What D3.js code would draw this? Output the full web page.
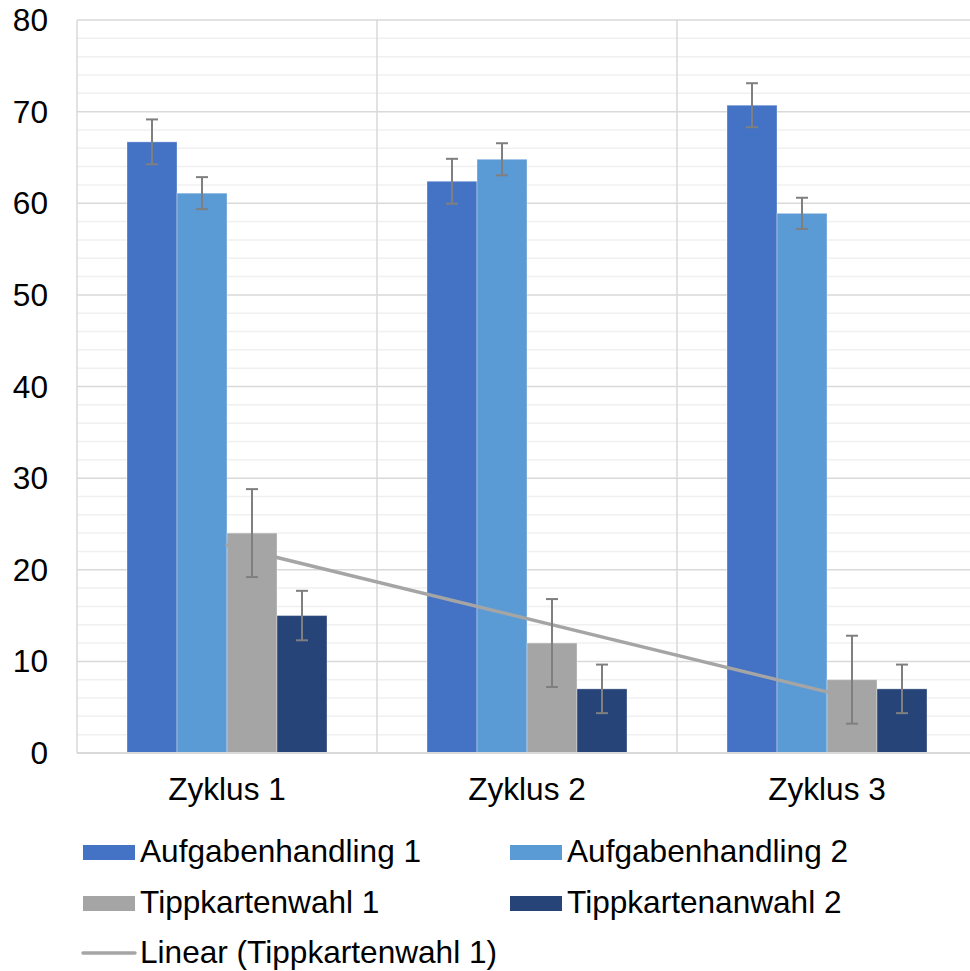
<!DOCTYPE html>
<html>
<head>
<meta charset="utf-8">
<script src="https://cdn.jsdelivr.net/npm/d3@7"></script>
<style>
  html, body { margin: 0; padding: 0; background: #fff; }
  svg { display: block; }
  text { font-family: "Liberation Sans", Arial, sans-serif; fill: #000; }
</style>
</head>
<body>
<svg id="chart" width="970" height="971"></svg>
<script>
const categories = ["Zyklus 1", "Zyklus 2", "Zyklus 3"];
const seriesNames = ["Aufgabenhandling 1", "Aufgabenhandling 2", "Tippkartenwahl 1", "Tippkartenanwahl 2"];
const aufgaben1 = [66.7, 62.4, 70.7];
const aufgaben2 = [61.1, 64.8, 58.9];
const tipp1 = [24, 12, 8];
const tipp2 = [15, 7, 7];
const errAufgaben1 = [2.45, 2.45, 2.4];
const errAufgaben2 = [1.75, 1.75, 1.7];
const errTipp1 = [4.8, 4.8, 4.8];
const errTipp2 = [2.7, 2.65, 2.65];
const yTicks = [0, 10, 20, 30, 40, 50, 60, 70, 80];
const trendLabel = "Linear (Tippkartenwahl 1)";
const colors = ["#4472C4", "#5B9BD5", "#A5A5A5", "#264478"];

const seriesValues = [aufgaben1, aufgaben2, tipp1, tipp2];
const seriesErrors = [errAufgaben1, errAufgaben2, errTipp1, errTipp2];

(function () {
const svg = d3.select("#chart");
const pLeft = 77, pRight = 977, pTop = 20, pBottom = 753;
const fs = "31.6px";

const x = d3.scaleBand().domain(categories).range([pLeft, pRight]).padding(0);
const bw = x.bandwidth();
const xs = d3.scaleBand().domain(seriesNames).range([bw / 6, bw * 5 / 6]).padding(0);
const y = d3.scaleLinear().domain([0, 80]).range([pBottom, pTop]);

// minor gridlines
const minor = d3.range(0, 81, 2).filter(v => v % 10 !== 0);
svg.append("g").selectAll("line").data(minor).join("line")
  .attr("x1", pLeft).attr("x2", pRight)
  .attr("y1", d => y(d)).attr("y2", d => y(d))
  .attr("stroke", "#F0F0F0").attr("stroke-width", 1.5);

// major gridlines
svg.append("g").selectAll("line").data(yTicks.filter(v => v > 0)).join("line")
  .attr("x1", pLeft).attr("x2", pRight)
  .attr("y1", d => y(d)).attr("y2", d => y(d))
  .attr("stroke", "#D9D9D9").attr("stroke-width", 1.5);

// vertical category lines
const vlines = categories.map(c => x(c)).concat([pRight]);
svg.append("g").selectAll("line").data(vlines).join("line")
  .attr("x1", d => d).attr("x2", d => d)
  .attr("y1", pTop).attr("y2", pBottom)
  .attr("stroke", "#D9D9D9").attr("stroke-width", 1.5);

// y labels
svg.append("g").selectAll("text").data(yTicks).join("text")
  .attr("x", 48).attr("y", d => y(d))
  .attr("text-anchor", "end").attr("dominant-baseline", "central")
  .style("font-size", fs)
  .text(d => d);

// bars
const barData = [];
seriesNames.forEach((s, si) => {
  categories.forEach((c, ci) => {
    barData.push({ s, c, v: seriesValues[si][ci], e: seriesErrors[si][ci], color: colors[si] });
  });
});
svg.append("g").selectAll("rect").data(barData).join("rect")
  .attr("x", d => x(d.c) + xs(d.s))
  .attr("y", d => y(d.v))
  .attr("width", xs.bandwidth())
  .attr("height", d => y(0) - y(d.v))
  .attr("fill", d => d.color)
  .attr("stroke", "#ffffff").attr("stroke-opacity", 0.35).attr("stroke-width", 1);

// x axis line
svg.append("line").attr("x1", pLeft).attr("x2", pRight)
  .attr("y1", y(0)).attr("y2", y(0))
  .attr("stroke", "#D9D9D9").attr("stroke-width", 2);

// trendline for Tippkartenwahl 1 (least squares)
const xi = tipp1.map((_, i) => i + 1);
const mx = d3.mean(xi), my = d3.mean(tipp1);
const slope = d3.sum(xi.map((v, i) => (v - mx) * (tipp1[i] - my))) / d3.sum(xi.map(v => (v - mx) ** 2));
const icpt = my - slope * mx;
const trendPts = categories.map((c, i) => [x(c) + bw / 2, y(icpt + slope * (i + 1))]);
svg.append("path")
  .attr("d", d3.line()([trendPts[0], trendPts[trendPts.length - 1]]))
  .attr("stroke", "#A5A5A5").attr("stroke-width", 3.5).attr("fill", "none")
  .attr("stroke-linecap", "round");

// error bars
const eg = svg.append("g").attr("stroke", "#7F7F7F").attr("stroke-width", 2);
barData.forEach(d => {
  const cx = x(d.c) + xs(d.s) + xs.bandwidth() / 2;
  const y1 = y(d.v + d.e), y2 = y(d.v - d.e);
  eg.append("line").attr("x1", cx).attr("x2", cx).attr("y1", y1).attr("y2", y2);
  eg.append("line").attr("x1", cx - 6).attr("x2", cx + 6).attr("y1", y1).attr("y2", y1);
  eg.append("line").attr("x1", cx - 6).attr("x2", cx + 6).attr("y1", y2).attr("y2", y2);
});

// x labels
svg.append("g").selectAll("text").data(categories).join("text")
  .attr("x", d => x(d) + bw / 2).attr("y", 800)
  .attr("text-anchor", "middle")
  .style("font-size", fs)
  .text(d => d);

// legend
const legendItems = [
  { name: seriesNames[0], color: colors[0], col: 0, row: 0, type: "rect" },
  { name: seriesNames[1], color: colors[1], col: 1, row: 0, type: "rect" },
  { name: seriesNames[2], color: colors[2], col: 0, row: 1, type: "rect" },
  { name: seriesNames[3], color: colors[3], col: 1, row: 1, type: "rect" },
  { name: trendLabel, color: "#A5A5A5", col: 0, row: 2, type: "line" }
];
const colX = [83, 510];
const rowY = [852, 903, 953];
const lg = svg.append("g");
legendItems.forEach(it => {
  const lx = colX[it.col], ly = rowY[it.row];
  if (it.type === "rect") {
    lg.append("rect").attr("x", lx).attr("y", ly - 7).attr("width", 52).attr("height", 15).attr("fill", it.color);
  } else {
    lg.append("line").attr("x1", lx).attr("x2", lx + 52).attr("y1", ly).attr("y2", ly)
      .attr("stroke", it.color).attr("stroke-width", 3.5).attr("stroke-linecap", "round");
  }
  lg.append("text").attr("x", lx + 57).attr("y", ly + 10)
    .style("font-size", fs).text(it.name);
});
})();
</script>
</body>
</html>
